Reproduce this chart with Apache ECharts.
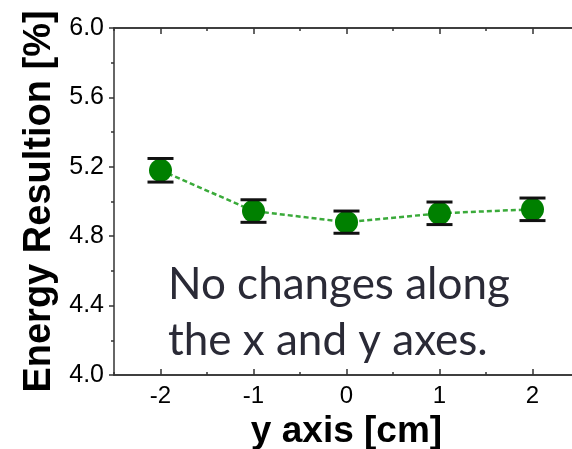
<!DOCTYPE html>
<html><head><meta charset="utf-8">
<script src="https://cdn.jsdelivr.net/npm/echarts@6/dist/echarts.min.js"></script>
<style>html,body{margin:0;padding:0;background:#fff}#c{width:572px;height:449px}</style>
</head><body><div id="c"></div>
<script>
const xPositions = [-2, -1, 0, 1, 2];
const resolution = [5.18, 4.945, 4.881, 4.932, 4.955];
const errors = [0.068, 0.065, 0.064, 0.065, 0.065];
const xMajorTicks = [-2, -1, 0, 1, 2];
const xMinorTicks = [-2.5, -1.5, -0.5, 0.5, 1.5, 2.5];
const yTickLabels = ['4.0', '4.4', '4.8', '5.2', '5.6', '6.0'];
const noteLines = ['No changes along', 'the x and y axes.'];

const chart = echarts.init(document.getElementById('c'), null, {renderer: 'canvas'});
const axisColor = '#333';
const pts = xPositions.map((x, i) => [x, resolution[i]]);
const errData = xPositions.map((x, i) => [x, resolution[i] - errors[i], resolution[i] + errors[i]]);

function xAx(extra) {
  return Object.assign({
    type: 'value', min: -2.5, max: 2.5, interval: 0.5, gridIndex: 0,
    axisLine: {show: true, onZero: false, lineStyle: {color: axisColor, width: 1.5}},
    splitLine: {show: false}, axisLabel: {show: false}
  }, extra);
}
function yAx(extra) {
  return Object.assign({
    type: 'value', min: 4, max: 6, interval: 0.4, gridIndex: 0,
    axisLine: {show: true, onZero: false, lineStyle: {color: axisColor, width: 1.5}},
    splitLine: {show: false}, axisLabel: {show: false}
  }, extra);
}

const option = {
  animation: false,
  backgroundColor: '#fff',
  grid: {left: 114, top: 28, right: -7, bottom: 74, containLabel: false, outerBoundsMode: 'none'},
  xAxis: [
    xAx({position: 'bottom',
      name: 'y axis [cm]', nameLocation: 'middle', nameGap: 32,
      nameTextStyle: {fontFamily: 'Liberation Sans', fontWeight: 'bold', fontSize: 37, color: '#000'},
      axisTick: {show: true, inside: true, length: 6, customValues: xMajorTicks, lineStyle: {color: axisColor, width: 1.5}},
      axisLabel: {show: true, customValues: xMajorTicks, margin: 9, fontFamily: 'Liberation Sans', fontSize: 24, color: '#000'}
    }),
    xAx({position: 'bottom',
      axisTick: {show: true, inside: true, length: 3, customValues: xMinorTicks, lineStyle: {color: axisColor, width: 1.5}}
    }),
    xAx({position: 'top',
      axisTick: {show: true, inside: true, length: 6, customValues: xMajorTicks, lineStyle: {color: axisColor, width: 1.5}}
    }),
    xAx({position: 'top',
      axisTick: {show: true, inside: true, length: 3, customValues: xMinorTicks, lineStyle: {color: axisColor, width: 1.5}}
    })
  ],
  yAxis: [
    yAx({position: 'left',
      name: 'Energy Resultion [%]', nameLocation: 'middle', nameGap: 53,
      nameTextStyle: {fontFamily: 'Liberation Sans', fontWeight: 'bold', fontSize: 38, color: '#000'},
      axisTick: {show: true, inside: false, length: 5, lineStyle: {color: axisColor, width: 1.5}},
      minorTick: {show: true, splitNumber: 2, length: 3, lineStyle: {color: axisColor, width: 1.5}},
      axisLabel: {show: true, margin: 10, fontFamily: 'Liberation Sans', fontSize: 25, color: '#000',
        formatter: v => yTickLabels.find(t => Math.abs(parseFloat(t) - v) < 1e-6) || ''}
    }),
    yAx({position: 'right',
      axisTick: {show: true, inside: true, length: 6, lineStyle: {color: axisColor, width: 1.5}},
      minorTick: {show: true, splitNumber: 2, length: 3, lineStyle: {color: axisColor, width: 1.5}}
    })
  ],
  graphic: [{
    type: 'text', left: 168, top: 257, z: 100,
    style: {
      text: noteLines.join('\n'), fontFamily: 'Lato', fontSize: 44, lineHeight: 56,
      fill: '#2a2a36', align: 'center'
    }
  }],
  series: [
    {type: 'line', xAxisIndex: 0, yAxisIndex: 0, data: pts, symbol: 'none', z: 2,
      lineStyle: {color: '#3aaa3a', width: 2.5, type: [5, 3]}},
    {type: 'custom', xAxisIndex: 0, yAxisIndex: 0, data: errData, z: 3,
      renderItem: function (params, api) {
        const x = api.value(0);
        const lo = api.coord([x, api.value(1)]);
        const hi = api.coord([x, api.value(2)]);
        return {type: 'line', shape: {x1: lo[0], y1: lo[1], x2: hi[0], y2: hi[1]}, style: {stroke: '#111', lineWidth: 1.5}};
      }},
    {type: 'scatter', xAxisIndex: 0, yAxisIndex: 0, data: pts, symbol: 'circle', symbolSize: 23, z: 4,
      itemStyle: {color: '#008000', opacity: 1}},
    {type: 'custom', xAxisIndex: 0, yAxisIndex: 0, data: errData, z: 5,
      renderItem: function (params, api) {
        const x = api.value(0);
        const lo = api.coord([x, api.value(1)]);
        const hi = api.coord([x, api.value(2)]);
        const hw = 13;
        const st = {stroke: '#111', lineWidth: 3};
        return {type: 'group', children: [
          {type: 'line', shape: {x1: lo[0] - hw, y1: lo[1], x2: lo[0] + hw, y2: lo[1]}, style: st},
          {type: 'line', shape: {x1: hi[0] - hw, y1: hi[1], x2: hi[0] + hw, y2: hi[1]}, style: st}
        ]};
      }}
  ]
};
chart.setOption(option);
</script></body></html>
